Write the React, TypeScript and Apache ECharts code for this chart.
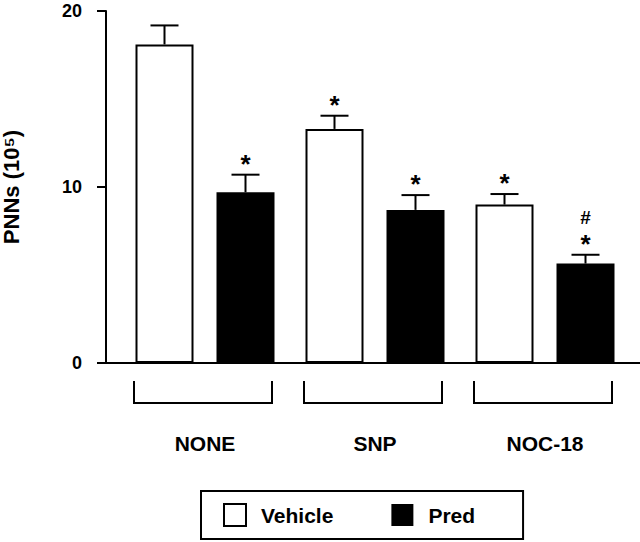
import React, { useEffect, useRef } from "react";
import * as echarts from "echarts";

const categories = ["NONE", "SNP", "NOC-18"];
const vehicleValues = [18.1, 13.3, 9.0];
const vehicleSem = [1.08, 0.75, 0.6];
const predValues = [9.7, 8.7, 5.65];
const predSem = [1.0, 0.84, 0.5];
const vehicleMarks = ["", "*", "*"];
const predMarks = ["*", "*", "#\n*"];
const yTicks = [0, 10, 20];

const FONT = "'Liberation Sans', Arial, Helvetica, sans-serif";
const BAR_W = 58;
const BAR_GAP = 23;
const OFFSET = (BAR_W + BAR_GAP) / 2;

function errorRender(offset: number, marks: string[]) {
  return (params: any, api: any) => {
    const idx = api.value(0);
    const val = api.value(1);
    const sem = api.value(2);
    const base = api.coord([idx, val]);
    const top = api.coord([idx, val + sem]);
    const x = base[0] + offset;
    const mark = marks[params.dataIndex] || "";
    const children: any[] = [
      { type: "line", shape: { x1: x, y1: base[1], x2: x, y2: top[1] }, style: { stroke: "#000", lineWidth: 2 } },
      { type: "line", shape: { x1: x - 14, y1: top[1], x2: x + 14, y2: top[1] }, style: { stroke: "#000", lineWidth: 2 } },
    ];
    const lines = mark ? mark.split("\n").reverse() : [];
    lines.forEach((t, k) => {
      const isStar = t === "*";
      children.push({
        type: "text",
        x: x,
        y: isStar ? top[1] - 11 - k * 26 : top[1] - 37 - (k - 1) * 26,
        style: {
          text: t,
          fill: "#000",
          font: `bold ${isStar ? 26 : 19}px ${FONT}`,
          align: "center",
          verticalAlign: "middle",
        },
      });
    });
    return { type: "group", children };
  };
}

export default function App() {
  const ref = useRef<HTMLDivElement>(null);
  useEffect(() => {
    if (!ref.current) return;
    const chart = echarts.init(ref.current, null, { renderer: "svg" });
    chart.setOption({
      animation: false,
      backgroundColor: "#fff",
      grid: { left: 120, right: 10, top: 11, bottom: 179, outerBoundsMode: "none", containLabel: false },
      xAxis: {
        type: "category",
        data: categories,
        axisLine: { show: false },
        axisTick: { show: false },
        axisLabel: { margin: 70, color: "#000", fontWeight: "bold", fontSize: 21, fontFamily: FONT },
      },
      yAxis: {
        type: "value",
        min: yTicks[0],
        max: yTicks[yTicks.length - 1],
        interval: 10,
        offset: 14,
        splitLine: { show: false },
        axisLine: { show: true, lineStyle: { color: "#000", width: 2 } },
        axisTick: { show: true, length: 9, lineStyle: { color: "#000", width: 2 } },
        axisLabel: { margin: 24, color: "#000", fontWeight: "bold", fontSize: 18, fontFamily: FONT },
        name: "PNNs (10⁵)",
        nameLocation: "middle",
        nameGap: 84,
        nameTextStyle: { color: "#000", fontWeight: "bold", fontSize: 22, fontFamily: FONT },
      },
      legend: {
        left: 201,
        top: 491,
        orient: "horizontal",
        padding: [12, 48, 12, 22],
        borderColor: "#000",
        borderWidth: 2,
        itemWidth: 22,
        itemHeight: 22,
        itemGap: 58,
        textStyle: { color: "#000", fontWeight: "bold", fontSize: 21, fontFamily: FONT, padding: [0, 0, 0, 10] },
        data: [
          { name: "Vehicle", icon: "rect", itemStyle: { color: "#fff", borderColor: "#000", borderWidth: 2 } },
          { name: "Pred", icon: "rect", itemStyle: { color: "#000", borderColor: "#000", borderWidth: 0 } },
        ],
      },
      graphic: [
        { type: "line", shape: { x1: 106, y1: 363, x2: 640, y2: 363 }, style: { stroke: "#000", lineWidth: 2 } },
      ],
      series: [
        {
          name: "Vehicle",
          type: "bar",
          data: vehicleValues,
          barWidth: BAR_W,
          barGap: `${(BAR_GAP / BAR_W) * 100}%`,
          itemStyle: { color: "#fff", borderColor: "#000", borderWidth: 2 },
        },
        {
          name: "Pred",
          type: "bar",
          data: predValues,
          barWidth: BAR_W,
          itemStyle: { color: "#000", borderColor: "#000", borderWidth: 0 },
        },
        {
          name: "vehicleErr",
          type: "custom",
          data: vehicleValues.map((v, i) => [i, v, vehicleSem[i]]),
          encode: { x: 0, y: 1 },
          renderItem: errorRender(-OFFSET, vehicleMarks),
          clip: false,
          z: 5,
        },
        {
          name: "predErr",
          type: "custom",
          data: predValues.map((v, i) => [i, v, predSem[i]]),
          encode: { x: 0, y: 1 },
          renderItem: errorRender(OFFSET, predMarks),
          clip: false,
          z: 5,
        },
        {
          name: "brackets",
          type: "custom",
          data: categories.map((_, i) => [i, 0]),
          encode: { x: 0, y: 1 },
          clip: false,
          renderItem: (params: any, api: any) => {
            const p = api.coord([api.value(0), 0]);
            const l = p[0] - 71;
            const r = p[0] + 67;
            const y1 = p[1] + 18;
            const y2 = p[1] + 40;
            return {
              type: "polyline",
              shape: { points: [[l, y1], [l, y2], [r, y2], [r, y1]] },
              style: { stroke: "#000", lineWidth: 2, fill: "none" },
            };
          },
        },
      ],
    });
    return () => chart.dispose();
  }, []);
  return <div ref={ref} style={{ width: 640, height: 542, position: "absolute", left: 0, top: 0 }} />;
}
